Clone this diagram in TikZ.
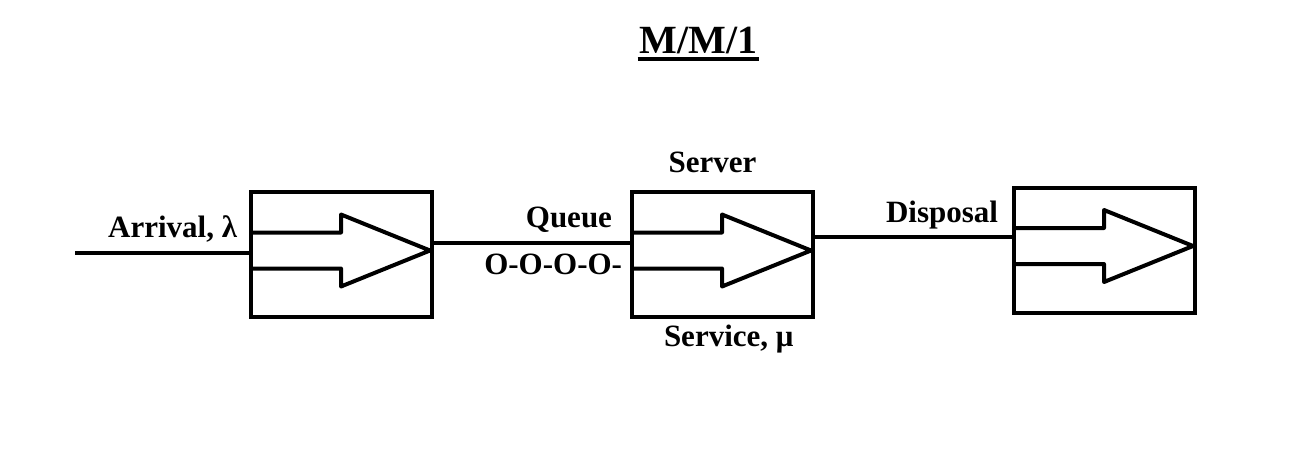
\documentclass[tikz,border=0pt]{standalone}
\usepackage{fontspec}
\setmainfont{Liberation Serif}
\usepackage{tikz}

\tikzset{
    stage/.style={draw, line width=4pt, minimum width=181pt, minimum height=125pt},
    lbl/.style={inner sep=0pt, font=\fontsize{31}{36}\selectfont\bfseries},
}

\begin{document}
\begin{tikzpicture}[x=1pt, y=-1pt, line width=4pt]
    \useasboundingbox (0,0) rectangle (1306,461);
    % Define boxes
        \node[stage] (b1) at (341,254.5) {};
        \node[stage] (b2) at (722,254.5) {};
        \node[stage] (b3) at (1104,250) {};
        \coordinate (in) at (75,253);
        % Draw arrows inside boxes
        \foreach \b in {b1,b2,b3}
            \draw[shift={(\b.center)}, line join=round] (-90,-22) -- (0,-22) -- (0,-40) -- (89,-4) -- (0,32) -- (0,14) -- (-90,14);
        % Draw lines
        \draw (in) -- (in -| b1.west);
        \draw ([yshift=11.5pt]b1.east) -- ([yshift=11.5pt]b1.east -| b2.west);
        \draw ([yshift=18pt]b2.east) -- ([yshift=18pt]b2.east -| b3.west);
        % Labels
        \node[lbl, font=\fontsize{40}{46}\selectfont\bfseries, anchor=base] (title) at (698.5,53) {M/M/1};
        \draw ([yshift=-6pt]title.base west) -- ([yshift=-6pt]title.base east);
        \node[lbl, anchor=base east] (arrival) at (239,237) {Arrival, λ};
        \node[lbl, anchor=base east] (queue) at (614,227) {Queue};
        \node[lbl, anchor=base east] (waiting) at (624,274) {O-O-O-O-};
        \node[lbl, anchor=base] (server) at (712.5,172) {Server};
        \node[lbl, anchor=base west] (service) at (662,346) {Service, μ};
        \node[lbl, anchor=base east] (disposal) at (1000,222) {Disposal};
    \end{tikzpicture}
\end{document}
